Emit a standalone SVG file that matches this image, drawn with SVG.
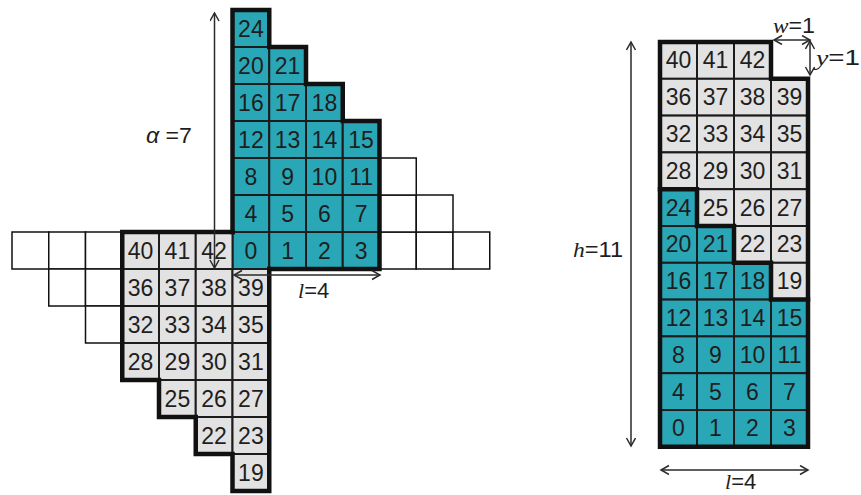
<svg xmlns="http://www.w3.org/2000/svg" width="861" height="495" viewBox="0 0 861 495">
<style>
.b{fill:#2aa7b7;stroke:#1c1c1c;stroke-width:2}
.g{fill:#e2e2e2;stroke:#1c1c1c;stroke-width:2}
.w{fill:#fff;stroke:#111;stroke-width:1.5}
.n{font-family:"Liberation Sans",Arial,sans-serif;font-size:23px;fill:#1e1e1e;text-anchor:middle}
.lab{font-family:"Liberation Sans",Arial,sans-serif;font-size:22px;fill:#1e1e1e}
.it{font-family:"Liberation Serif","Times New Roman",serif;font-style:italic}
.thick{fill:none;stroke:#111;stroke-width:4.5;stroke-linejoin:miter;stroke-linecap:square}
.arr{fill:none;stroke:#2a2a2a;stroke-width:1.5;marker-start:url(#ah);marker-end:url(#ah)}
</style>
<defs>
<marker id="ah" markerUnits="userSpaceOnUse" markerWidth="12" markerHeight="12" refX="9" refY="5" orient="auto-start-reverse">
<path d="M1,0.5 L9,5 L1,9.5" fill="none" stroke="#2a2a2a" stroke-width="1.5"/>
</marker>
</defs>
<rect width="861" height="495" fill="#fff"/>

<!-- left figure white cells -->
<g id="left-white">
<rect class="w" x="12" y="232" width="36.75" height="37"/>
<rect class="w" x="48.75" y="232" width="36.75" height="37"/>
<rect class="w" x="85.5" y="232" width="36.75" height="37"/>
<rect class="w" x="48.75" y="269" width="36.75" height="37"/>
<rect class="w" x="85.5" y="269" width="36.75" height="37"/>
<rect class="w" x="85.5" y="306" width="36.75" height="37"/>
<rect class="w" x="379.5" y="232" width="36.75" height="37"/>
<rect class="w" x="416.25" y="232" width="36.75" height="37"/>
<rect class="w" x="453" y="232" width="36.75" height="37"/>
<rect class="w" x="379.5" y="195" width="36.75" height="37"/>
<rect class="w" x="416.25" y="195" width="36.75" height="37"/>
<rect class="w" x="379.5" y="158" width="36.75" height="37"/>
</g>

<!-- left figure blue cells -->
<g id="L24"><rect class="b" x="232.5" y="10" width="36.75" height="37"/><text class="n" x="250.9" y="36.5">24</text></g>
<g id="L20"><rect class="b" x="232.5" y="47" width="36.75" height="37"/><text class="n" x="250.9" y="73.5">20</text></g>
<g id="L21"><rect class="b" x="269.25" y="47" width="36.75" height="37"/><text class="n" x="287.6" y="73.5">21</text></g>
<g id="L16"><rect class="b" x="232.5" y="84" width="36.75" height="37"/><text class="n" x="250.9" y="110.5">16</text></g>
<g id="L17"><rect class="b" x="269.25" y="84" width="36.75" height="37"/><text class="n" x="287.6" y="110.5">17</text></g>
<g id="L18"><rect class="b" x="306" y="84" width="36.75" height="37"/><text class="n" x="324.4" y="110.5">18</text></g>
<g id="L12"><rect class="b" x="232.5" y="121" width="36.75" height="37"/><text class="n" x="250.9" y="147.5">12</text></g>
<g id="L13"><rect class="b" x="269.25" y="121" width="36.75" height="37"/><text class="n" x="287.6" y="147.5">13</text></g>
<g id="L14"><rect class="b" x="306" y="121" width="36.75" height="37"/><text class="n" x="324.4" y="147.5">14</text></g>
<g id="L15"><rect class="b" x="342.75" y="121" width="36.75" height="37"/><text class="n" x="361.1" y="147.5">15</text></g>
<g id="L8"><rect class="b" x="232.5" y="158" width="36.75" height="37"/><text class="n" x="250.9" y="184.5">8</text></g>
<g id="L9"><rect class="b" x="269.25" y="158" width="36.75" height="37"/><text class="n" x="287.6" y="184.5">9</text></g>
<g id="L10"><rect class="b" x="306" y="158" width="36.75" height="37"/><text class="n" x="324.4" y="184.5">10</text></g>
<g id="L11"><rect class="b" x="342.75" y="158" width="36.75" height="37"/><text class="n" x="361.1" y="184.5">11</text></g>
<g id="L4"><rect class="b" x="232.5" y="195" width="36.75" height="37"/><text class="n" x="250.9" y="221.5">4</text></g>
<g id="L5"><rect class="b" x="269.25" y="195" width="36.75" height="37"/><text class="n" x="287.6" y="221.5">5</text></g>
<g id="L6"><rect class="b" x="306" y="195" width="36.75" height="37"/><text class="n" x="324.4" y="221.5">6</text></g>
<g id="L7"><rect class="b" x="342.75" y="195" width="36.75" height="37"/><text class="n" x="361.1" y="221.5">7</text></g>
<g id="L0"><rect class="b" x="232.5" y="232" width="36.75" height="37"/><text class="n" x="250.9" y="258.5">0</text></g>
<g id="L1"><rect class="b" x="269.25" y="232" width="36.75" height="37"/><text class="n" x="287.6" y="258.5">1</text></g>
<g id="L2"><rect class="b" x="306" y="232" width="36.75" height="37"/><text class="n" x="324.4" y="258.5">2</text></g>
<g id="L3"><rect class="b" x="342.75" y="232" width="36.75" height="37"/><text class="n" x="361.1" y="258.5">3</text></g>

<!-- left figure gray cells -->
<g id="L40"><rect class="g" x="122.25" y="232" width="36.75" height="37"/><text class="n" x="140.6" y="258.5">40</text></g>
<g id="L41"><rect class="g" x="159" y="232" width="36.75" height="37"/><text class="n" x="177.4" y="258.5">41</text></g>
<g id="L42"><rect class="g" x="195.75" y="232" width="36.75" height="37"/><text class="n" x="214.1" y="258.5">42</text></g>
<g id="L36"><rect class="g" x="122.25" y="269" width="36.75" height="37"/><text class="n" x="140.6" y="295.5">36</text></g>
<g id="L37"><rect class="g" x="159" y="269" width="36.75" height="37"/><text class="n" x="177.4" y="295.5">37</text></g>
<g id="L38"><rect class="g" x="195.75" y="269" width="36.75" height="37"/><text class="n" x="214.1" y="295.5">38</text></g>
<g id="L39"><rect class="g" x="232.5" y="269" width="36.75" height="37"/><text class="n" x="250.9" y="295.5">39</text></g>
<g id="L32"><rect class="g" x="122.25" y="306" width="36.75" height="37"/><text class="n" x="140.6" y="332.5">32</text></g>
<g id="L33"><rect class="g" x="159" y="306" width="36.75" height="37"/><text class="n" x="177.4" y="332.5">33</text></g>
<g id="L34"><rect class="g" x="195.75" y="306" width="36.75" height="37"/><text class="n" x="214.1" y="332.5">34</text></g>
<g id="L35"><rect class="g" x="232.5" y="306" width="36.75" height="37"/><text class="n" x="250.9" y="332.5">35</text></g>
<g id="L28"><rect class="g" x="122.25" y="343" width="36.75" height="37"/><text class="n" x="140.6" y="369.5">28</text></g>
<g id="L29"><rect class="g" x="159" y="343" width="36.75" height="37"/><text class="n" x="177.4" y="369.5">29</text></g>
<g id="L30"><rect class="g" x="195.75" y="343" width="36.75" height="37"/><text class="n" x="214.1" y="369.5">30</text></g>
<g id="L31"><rect class="g" x="232.5" y="343" width="36.75" height="37"/><text class="n" x="250.9" y="369.5">31</text></g>
<g id="L25"><rect class="g" x="159" y="380" width="36.75" height="37"/><text class="n" x="177.4" y="406.5">25</text></g>
<g id="L26"><rect class="g" x="195.75" y="380" width="36.75" height="37"/><text class="n" x="214.1" y="406.5">26</text></g>
<g id="L27"><rect class="g" x="232.5" y="380" width="36.75" height="37"/><text class="n" x="250.9" y="406.5">27</text></g>
<g id="L22"><rect class="g" x="195.75" y="417" width="36.75" height="37"/><text class="n" x="214.1" y="443.5">22</text></g>
<g id="L23"><rect class="g" x="232.5" y="417" width="36.75" height="37"/><text class="n" x="250.9" y="443.5">23</text></g>
<g id="L19"><rect class="g" x="232.5" y="454" width="36.75" height="37"/><text class="n" x="250.9" y="480.5">19</text></g>

<g id="left-outlines">
<path class="thick" d="M232.5,232 V10 H269.25 V47 H306 V84 H342.75 V121 H379.5 V269 H269.25"/>
<path class="thick" d="M232.5,232 H122.25 V380 H159 V417 H195.75 V454 H232.5 V491 H269.25 V269"/>
</g>

<!-- right figure cells -->
<g id="R40"><rect class="g" x="660" y="42" width="37" height="36.8"/><text class="n" x="678.5" y="68.4">40</text></g>
<g id="R41"><rect class="g" x="697" y="42" width="37" height="36.8"/><text class="n" x="715.5" y="68.4">41</text></g>
<g id="R42"><rect class="g" x="734" y="42" width="37" height="36.8"/><text class="n" x="752.5" y="68.4">42</text></g>
<g id="R36"><rect class="g" x="660" y="78.8" width="37" height="36.8"/><text class="n" x="678.5" y="105.2">36</text></g>
<g id="R37"><rect class="g" x="697" y="78.8" width="37" height="36.8"/><text class="n" x="715.5" y="105.2">37</text></g>
<g id="R38"><rect class="g" x="734" y="78.8" width="37" height="36.8"/><text class="n" x="752.5" y="105.2">38</text></g>
<g id="R39"><rect class="g" x="771" y="78.8" width="37" height="36.8"/><text class="n" x="789.5" y="105.2">39</text></g>
<g id="R32"><rect class="g" x="660" y="115.6" width="37" height="36.8"/><text class="n" x="678.5" y="142">32</text></g>
<g id="R33"><rect class="g" x="697" y="115.6" width="37" height="36.8"/><text class="n" x="715.5" y="142">33</text></g>
<g id="R34"><rect class="g" x="734" y="115.6" width="37" height="36.8"/><text class="n" x="752.5" y="142">34</text></g>
<g id="R35"><rect class="g" x="771" y="115.6" width="37" height="36.8"/><text class="n" x="789.5" y="142">35</text></g>
<g id="R28"><rect class="g" x="660" y="152.4" width="37" height="36.8"/><text class="n" x="678.5" y="178.8">28</text></g>
<g id="R29"><rect class="g" x="697" y="152.4" width="37" height="36.8"/><text class="n" x="715.5" y="178.8">29</text></g>
<g id="R30"><rect class="g" x="734" y="152.4" width="37" height="36.8"/><text class="n" x="752.5" y="178.8">30</text></g>
<g id="R31"><rect class="g" x="771" y="152.4" width="37" height="36.8"/><text class="n" x="789.5" y="178.8">31</text></g>
<g id="R24"><rect class="b" x="660" y="189.2" width="37" height="36.8"/><text class="n" x="678.5" y="215.6">24</text></g>
<g id="R25"><rect class="g" x="697" y="189.2" width="37" height="36.8"/><text class="n" x="715.5" y="215.6">25</text></g>
<g id="R26"><rect class="g" x="734" y="189.2" width="37" height="36.8"/><text class="n" x="752.5" y="215.6">26</text></g>
<g id="R27"><rect class="g" x="771" y="189.2" width="37" height="36.8"/><text class="n" x="789.5" y="215.6">27</text></g>
<g id="R20"><rect class="b" x="660" y="226" width="37" height="36.8"/><text class="n" x="678.5" y="252.4">20</text></g>
<g id="R21"><rect class="b" x="697" y="226" width="37" height="36.8"/><text class="n" x="715.5" y="252.4">21</text></g>
<g id="R22"><rect class="g" x="734" y="226" width="37" height="36.8"/><text class="n" x="752.5" y="252.4">22</text></g>
<g id="R23"><rect class="g" x="771" y="226" width="37" height="36.8"/><text class="n" x="789.5" y="252.4">23</text></g>
<g id="R16"><rect class="b" x="660" y="262.8" width="37" height="36.8"/><text class="n" x="678.5" y="289.2">16</text></g>
<g id="R17"><rect class="b" x="697" y="262.8" width="37" height="36.8"/><text class="n" x="715.5" y="289.2">17</text></g>
<g id="R18"><rect class="b" x="734" y="262.8" width="37" height="36.8"/><text class="n" x="752.5" y="289.2">18</text></g>
<g id="R19"><rect class="g" x="771" y="262.8" width="37" height="36.8"/><text class="n" x="789.5" y="289.2">19</text></g>
<g id="R12"><rect class="b" x="660" y="299.6" width="37" height="36.8"/><text class="n" x="678.5" y="326">12</text></g>
<g id="R13"><rect class="b" x="697" y="299.6" width="37" height="36.8"/><text class="n" x="715.5" y="326">13</text></g>
<g id="R14"><rect class="b" x="734" y="299.6" width="37" height="36.8"/><text class="n" x="752.5" y="326">14</text></g>
<g id="R15"><rect class="b" x="771" y="299.6" width="37" height="36.8"/><text class="n" x="789.5" y="326">15</text></g>
<g id="R8"><rect class="b" x="660" y="336.4" width="37" height="36.8"/><text class="n" x="678.5" y="362.8">8</text></g>
<g id="R9"><rect class="b" x="697" y="336.4" width="37" height="36.8"/><text class="n" x="715.5" y="362.8">9</text></g>
<g id="R10"><rect class="b" x="734" y="336.4" width="37" height="36.8"/><text class="n" x="752.5" y="362.8">10</text></g>
<g id="R11"><rect class="b" x="771" y="336.4" width="37" height="36.8"/><text class="n" x="789.5" y="362.8">11</text></g>
<g id="R4"><rect class="b" x="660" y="373.2" width="37" height="36.8"/><text class="n" x="678.5" y="399.6">4</text></g>
<g id="R5"><rect class="b" x="697" y="373.2" width="37" height="36.8"/><text class="n" x="715.5" y="399.6">5</text></g>
<g id="R6"><rect class="b" x="734" y="373.2" width="37" height="36.8"/><text class="n" x="752.5" y="399.6">6</text></g>
<g id="R7"><rect class="b" x="771" y="373.2" width="37" height="36.8"/><text class="n" x="789.5" y="399.6">7</text></g>
<g id="R0"><rect class="b" x="660" y="410" width="37" height="36.8"/><text class="n" x="678.5" y="436.4">0</text></g>
<g id="R1"><rect class="b" x="697" y="410" width="37" height="36.8"/><text class="n" x="715.5" y="436.4">1</text></g>
<g id="R2"><rect class="b" x="734" y="410" width="37" height="36.8"/><text class="n" x="752.5" y="436.4">2</text></g>
<g id="R3"><rect class="b" x="771" y="410" width="37" height="36.8"/><text class="n" x="789.5" y="436.4">3</text></g>

<g id="right-outlines">
<path class="thick" d="M660,42 H771 V78.8 H808 V446.8 H660 Z"/>
<path class="thick" d="M660,189.2 H697 V226 H734 V262.8 H771 V299.6 H808"/>
</g>

<!-- connectors (dimension arrows) -->
<g id="connectors">
<line class="arr" x1="214.5" y1="268" x2="214.5" y2="13"/>
<line class="arr" x1="234" y1="275" x2="380" y2="275"/>
<line class="arr" x1="631" y1="446" x2="631" y2="42"/>
<line class="arr" x1="661" y1="470" x2="808" y2="470"/>
<line class="arr" x1="774" y1="40" x2="810" y2="40"/>
<line class="arr" x1="810" y1="41" x2="810" y2="75"/>
</g>

<!-- labels -->
<g id="labels">
<text class="lab" x="146" y="143" font-size="21" textLength="46" lengthAdjust="spacingAndGlyphs"><tspan font-style="italic">α</tspan> =7</text>
<text class="lab" x="298" y="298" font-size="21"><tspan class="it">l</tspan>=4</text>
<text class="lab" x="573" y="257" font-size="21" textLength="50" lengthAdjust="spacingAndGlyphs"><tspan class="it">h</tspan>=11</text>
<text class="lab" x="725" y="489" font-size="21"><tspan class="it">l</tspan>=4</text>
<text class="lab" x="773" y="33" font-size="19" textLength="42" lengthAdjust="spacingAndGlyphs"><tspan class="it">w</tspan>=1</text>
<text class="lab" x="816" y="65" font-size="21" textLength="44" lengthAdjust="spacingAndGlyphs"><tspan class="it">y</tspan>=1</text>
</g>
</svg>
